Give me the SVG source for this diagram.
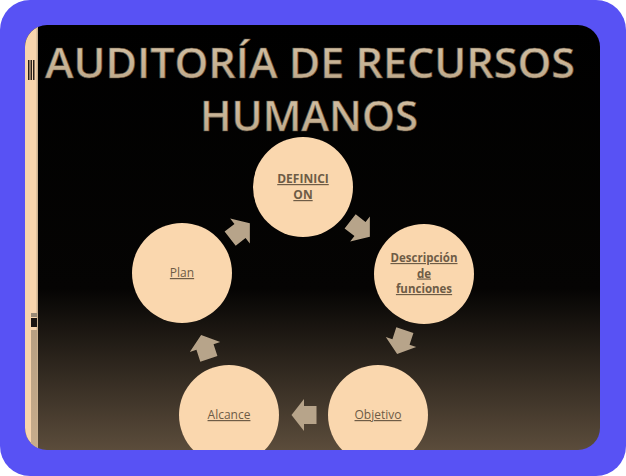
<svg xmlns="http://www.w3.org/2000/svg" width="626" height="476" viewBox="0 0 626 476">
  <defs>
    <linearGradient id="bg" x1="0" y1="25" x2="0" y2="450" gradientUnits="userSpaceOnUse">
      <stop offset="0" stop-color="#000000"/>
      <stop offset="0.62" stop-color="#050403"/>
      <stop offset="1" stop-color="#5b4c3b"/>
    </linearGradient>
    <linearGradient id="strip" x1="0" y1="300" x2="0" y2="450" gradientUnits="userSpaceOnUse">
      <stop offset="0" stop-color="#b39c80"/>
      <stop offset="1" stop-color="#c8ad8c"/>
    </linearGradient>
    <linearGradient id="tg" x1="0" y1="0" x2="0" y2="1">
      <stop offset="0" stop-color="#d8c6aa"/>
      <stop offset="1" stop-color="#b9a384"/>
    </linearGradient>
    <clipPath id="inner">
      <rect x="25" y="25" width="575" height="425" rx="22"/>
    </clipPath>
    <path id="arr" d="M-12.5,-9 L0,-9 L0,-16 L12.5,0 L0,16 L0,9 L-12.5,9 Z"/>
    <style>
      .title { font-family: "Open Sans", "Liberation Sans", sans-serif; font-weight: 600; font-size: 42px; fill: url(#tg); stroke: #5e4f3e; stroke-width: 0.6; text-anchor: middle; }
      .node circle { fill: #fad7ae; }
      .lbl { font-family: "Open Sans", "Liberation Sans", sans-serif; font-size: 12px; fill: #6e5c46; text-anchor: middle; text-decoration: underline; }
      .b { font-weight: bold; }
      .sm { font-size: 11.5px; }
      .arrow { fill: #b7a48a; }
    </style>
  </defs>

  <rect width="626" height="476" fill="#ffffff"/>
  <rect x="0" y="0" width="626" height="476" rx="30" fill="#5852f4"/>

  <g clip-path="url(#inner)">
    <rect x="25" y="25" width="575" height="425" fill="url(#bg)"/>
    <rect x="25" y="25" width="13" height="425" fill="#f8d5ad"/>
    <rect x="36.5" y="25" width="1.5" height="425" fill="#c9b08f"/>
    <rect x="31" y="330" width="6" height="120" fill="url(#strip)"/>
    <rect x="31" y="313" width="6" height="4" fill="#9a8a76"/>
    <rect x="31" y="318" width="6" height="9" fill="#1a1410"/>
    <rect x="28" y="60" width="1.5" height="20" fill="#2a2018"/>
    <rect x="30.5" y="60" width="1.5" height="20" fill="#2a2018"/>
    <rect x="33" y="60" width="1.5" height="20" fill="#2a2018"/>

    <text class="title" x="310" y="78" textLength="530" lengthAdjust="spacingAndGlyphs">AUDITORÍA DE RECURSOS</text>
    <text class="title" x="309" y="131" textLength="218" lengthAdjust="spacingAndGlyphs">HUMANOS</text>

    <g id="connectors">
      <use href="#arr" class="arrow" transform="translate(240,231) rotate(-38)"/>
      <use href="#arr" class="arrow" transform="translate(360,229) rotate(38)"/>
      <use href="#arr" class="arrow" transform="translate(401,342) rotate(108)"/>
      <use href="#arr" class="arrow" transform="translate(304,415) rotate(180)"/>
      <use href="#arr" class="arrow" transform="translate(205,347) rotate(-108)"/>
    </g>

    <g id="node-definicion" class="node">
      <circle cx="303" cy="187" r="50"/>
      <text class="lbl b" x="303" y="183">DEFINICI</text>
      <text class="lbl b" x="303" y="199">ON</text>
    </g>
    <g id="node-descripcion" class="node">
      <circle cx="424" cy="274" r="50"/>
      <text class="lbl b sm" x="424" y="262">Descripción</text>
      <text class="lbl b sm" x="424" y="277.5">de</text>
      <text class="lbl b sm" x="424" y="293">funciones</text>
    </g>
    <g id="node-objetivo" class="node">
      <circle cx="378" cy="415" r="50"/>
      <text class="lbl" x="378" y="419">Objetivo</text>
    </g>
    <g id="node-alcance" class="node">
      <circle cx="229" cy="415" r="50"/>
      <text class="lbl" x="229" y="419">Alcance</text>
    </g>
    <g id="node-plan" class="node">
      <circle cx="182" cy="273" r="50"/>
      <text class="lbl" x="182" y="277">Plan</text>
    </g>
  </g>
</svg>
